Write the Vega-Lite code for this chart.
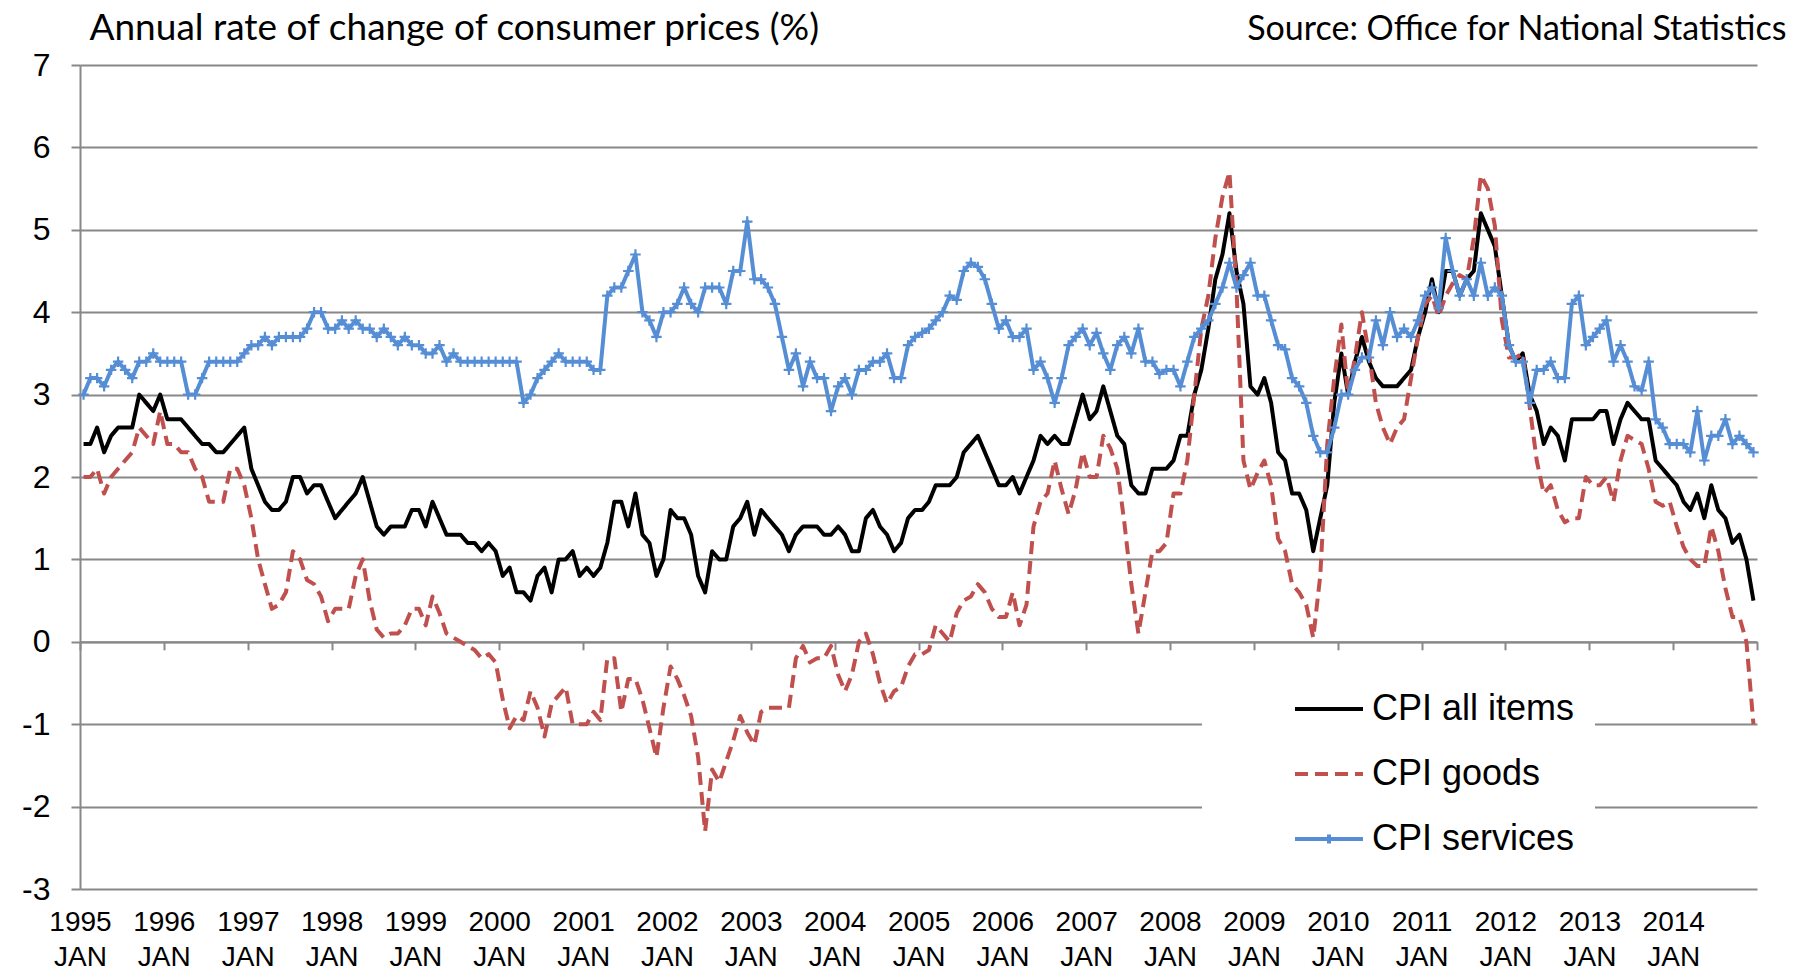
{
"$schema": "https://vega.github.io/schema/vega-lite/v6.json",
"width": 1677, "height": 824,
"autosize": "none",
"padding": {"left": 80, "top": 65, "right": 38, "bottom": 82},
"background": "white",
"config": {"view": {"stroke": null}, "font": "Liberation Sans"},
"data": {"format": {"parse": {"m": "utc:'%Y-%m'"}}, "values": [
{"m":"1995-01","a":2.4,"g":2.0,"s":3.0},{"m":"1995-02","a":2.4,"g":2.0,"s":3.2},{"m":"1995-03","a":2.6,"g":2.1,"s":3.2},{"m":"1995-04","a":2.3,"g":1.8,"s":3.1},{"m":"1995-05","a":2.5,"g":2.0,"s":3.3},{"m":"1995-06","a":2.6,"g":2.1,"s":3.4},{"m":"1995-07","a":2.6,"g":2.2,"s":3.3},{"m":"1995-08","a":2.6,"g":2.3,"s":3.2},{"m":"1995-09","a":3.0,"g":2.6,"s":3.4},{"m":"1995-10","a":2.9,"g":2.5,"s":3.4},{"m":"1995-11","a":2.8,"g":2.4,"s":3.5},{"m":"1995-12","a":3.0,"g":2.8,"s":3.4},
{"m":"1996-01","a":2.7,"g":2.4,"s":3.4},{"m":"1996-02","a":2.7,"g":2.4,"s":3.4},{"m":"1996-03","a":2.7,"g":2.3,"s":3.4},{"m":"1996-04","a":2.6,"g":2.3,"s":3.0},{"m":"1996-05","a":2.5,"g":2.1,"s":3.0},{"m":"1996-06","a":2.4,"g":2.0,"s":3.2},{"m":"1996-07","a":2.4,"g":1.7,"s":3.4},{"m":"1996-08","a":2.3,"g":1.7,"s":3.4},{"m":"1996-09","a":2.3,"g":1.7,"s":3.4},{"m":"1996-10","a":2.4,"g":2.1,"s":3.4},{"m":"1996-11","a":2.5,"g":2.1,"s":3.4},{"m":"1996-12","a":2.6,"g":1.9,"s":3.5},
{"m":"1997-01","a":2.1,"g":1.5,"s":3.6},{"m":"1997-02","a":1.9,"g":1.0,"s":3.6},{"m":"1997-03","a":1.7,"g":0.7,"s":3.7},{"m":"1997-04","a":1.6,"g":0.4,"s":3.6},{"m":"1997-05","a":1.6,"g":0.45,"s":3.7},{"m":"1997-06","a":1.7,"g":0.6,"s":3.7},{"m":"1997-07","a":2.0,"g":1.1,"s":3.7},{"m":"1997-08","a":2.0,"g":1.0,"s":3.7},{"m":"1997-09","a":1.8,"g":0.75,"s":3.8},{"m":"1997-10","a":1.9,"g":0.7,"s":4.0},{"m":"1997-11","a":1.9,"g":0.55,"s":4.0},{"m":"1997-12","a":1.7,"g":0.25,"s":3.8},
{"m":"1998-01","a":1.5,"g":0.4,"s":3.8},{"m":"1998-02","a":1.6,"g":0.4,"s":3.9},{"m":"1998-03","a":1.7,"g":0.4,"s":3.8},{"m":"1998-04","a":1.8,"g":0.8,"s":3.9},{"m":"1998-05","a":2.0,"g":1.0,"s":3.8},{"m":"1998-06","a":1.7,"g":0.5,"s":3.8},{"m":"1998-07","a":1.4,"g":0.15,"s":3.7},{"m":"1998-08","a":1.3,"g":0.05,"s":3.8},{"m":"1998-09","a":1.4,"g":0.1,"s":3.7},{"m":"1998-10","a":1.4,"g":0.1,"s":3.6},{"m":"1998-11","a":1.4,"g":0.2,"s":3.7},{"m":"1998-12","a":1.6,"g":0.4,"s":3.6},
{"m":"1999-01","a":1.6,"g":0.4,"s":3.6},{"m":"1999-02","a":1.4,"g":0.2,"s":3.5},{"m":"1999-03","a":1.7,"g":0.55,"s":3.5},{"m":"1999-04","a":1.5,"g":0.35,"s":3.6},{"m":"1999-05","a":1.3,"g":0.1,"s":3.4},{"m":"1999-06","a":1.3,"g":0.05,"s":3.5},{"m":"1999-07","a":1.3,"g":0.0,"s":3.4},{"m":"1999-08","a":1.2,"g":-0.05,"s":3.4},{"m":"1999-09","a":1.2,"g":-0.1,"s":3.4},{"m":"1999-10","a":1.1,"g":-0.2,"s":3.4},{"m":"1999-11","a":1.2,"g":-0.15,"s":3.4},{"m":"1999-12","a":1.1,"g":-0.25,"s":3.4},
{"m":"2000-01","a":0.8,"g":-0.7,"s":3.4},{"m":"2000-02","a":0.9,"g":-1.05,"s":3.4},{"m":"2000-03","a":0.6,"g":-0.9,"s":3.4},{"m":"2000-04","a":0.6,"g":-0.95,"s":2.9},{"m":"2000-05","a":0.5,"g":-0.6,"s":3.0},{"m":"2000-06","a":0.8,"g":-0.8,"s":3.2},{"m":"2000-07","a":0.9,"g":-1.15,"s":3.3},{"m":"2000-08","a":0.6,"g":-0.75,"s":3.4},{"m":"2000-09","a":1.0,"g":-0.65,"s":3.5},{"m":"2000-10","a":1.0,"g":-0.55,"s":3.4},{"m":"2000-11","a":1.1,"g":-1.0,"s":3.4},{"m":"2000-12","a":0.8,"g":-1.0,"s":3.4},
{"m":"2001-01","a":0.9,"g":-1.0,"s":3.4},{"m":"2001-02","a":0.8,"g":-0.85,"s":3.3},{"m":"2001-03","a":0.9,"g":-0.95,"s":3.3},{"m":"2001-04","a":1.2,"g":-0.2,"s":4.2},{"m":"2001-05","a":1.7,"g":-0.2,"s":4.3},{"m":"2001-06","a":1.7,"g":-0.85,"s":4.3},{"m":"2001-07","a":1.4,"g":-0.45,"s":4.5},{"m":"2001-08","a":1.8,"g":-0.45,"s":4.7},{"m":"2001-09","a":1.3,"g":-0.7,"s":4.0},{"m":"2001-10","a":1.2,"g":-1.05,"s":3.9},{"m":"2001-11","a":0.8,"g":-1.4,"s":3.7},{"m":"2001-12","a":1.0,"g":-0.8,"s":4.0},
{"m":"2002-01","a":1.6,"g":-0.3,"s":4.0},{"m":"2002-02","a":1.5,"g":-0.45,"s":4.1},{"m":"2002-03","a":1.5,"g":-0.65,"s":4.3},{"m":"2002-04","a":1.3,"g":-0.9,"s":4.1},{"m":"2002-05","a":0.8,"g":-1.4,"s":4.0},{"m":"2002-06","a":0.6,"g":-2.3,"s":4.3},{"m":"2002-07","a":1.1,"g":-1.55,"s":4.3},{"m":"2002-08","a":1.0,"g":-1.7,"s":4.3},{"m":"2002-09","a":1.0,"g":-1.45,"s":4.1},{"m":"2002-10","a":1.4,"g":-1.2,"s":4.5},{"m":"2002-11","a":1.5,"g":-0.9,"s":4.5},{"m":"2002-12","a":1.7,"g":-1.1,"s":5.1},
{"m":"2003-01","a":1.3,"g":-1.25,"s":4.4},{"m":"2003-02","a":1.6,"g":-0.85,"s":4.4},{"m":"2003-03","a":1.5,"g":-0.8,"s":4.3},{"m":"2003-04","a":1.4,"g":-0.8,"s":4.1},{"m":"2003-05","a":1.3,"g":-0.8,"s":3.7},{"m":"2003-06","a":1.1,"g":-0.8,"s":3.3},{"m":"2003-07","a":1.3,"g":-0.2,"s":3.5},{"m":"2003-08","a":1.4,"g":-0.05,"s":3.1},{"m":"2003-09","a":1.4,"g":-0.25,"s":3.4},{"m":"2003-10","a":1.4,"g":-0.2,"s":3.2},{"m":"2003-11","a":1.3,"g":-0.2,"s":3.2},{"m":"2003-12","a":1.3,"g":-0.05,"s":2.8},
{"m":"2004-01","a":1.4,"g":-0.4,"s":3.1},{"m":"2004-02","a":1.3,"g":-0.6,"s":3.2},{"m":"2004-03","a":1.1,"g":-0.4,"s":3.0},{"m":"2004-04","a":1.1,"g":0.0,"s":3.3},{"m":"2004-05","a":1.5,"g":0.1,"s":3.3},{"m":"2004-06","a":1.6,"g":-0.15,"s":3.4},{"m":"2004-07","a":1.4,"g":-0.5,"s":3.4},{"m":"2004-08","a":1.3,"g":-0.75,"s":3.5},{"m":"2004-09","a":1.1,"g":-0.6,"s":3.2},{"m":"2004-10","a":1.2,"g":-0.55,"s":3.2},{"m":"2004-11","a":1.5,"g":-0.3,"s":3.6},{"m":"2004-12","a":1.6,"g":-0.15,"s":3.7},
{"m":"2005-01","a":1.6,"g":-0.15,"s":3.75},{"m":"2005-02","a":1.7,"g":-0.1,"s":3.8},{"m":"2005-03","a":1.9,"g":0.2,"s":3.9},{"m":"2005-04","a":1.9,"g":0.1,"s":4.0},{"m":"2005-05","a":1.9,"g":0.0,"s":4.2},{"m":"2005-06","a":2.0,"g":0.35,"s":4.15},{"m":"2005-07","a":2.3,"g":0.5,"s":4.5},{"m":"2005-08","a":2.4,"g":0.55,"s":4.6},{"m":"2005-09","a":2.5,"g":0.7,"s":4.55},{"m":"2005-10","a":2.3,"g":0.6,"s":4.4},{"m":"2005-11","a":2.1,"g":0.4,"s":4.1},{"m":"2005-12","a":1.9,"g":0.3,"s":3.8},
{"m":"2006-01","a":1.9,"g":0.3,"s":3.9},{"m":"2006-02","a":2.0,"g":0.6,"s":3.7},{"m":"2006-03","a":1.8,"g":0.2,"s":3.7},{"m":"2006-04","a":2.0,"g":0.45,"s":3.8},{"m":"2006-05","a":2.2,"g":1.4,"s":3.3},{"m":"2006-06","a":2.5,"g":1.7,"s":3.4},{"m":"2006-07","a":2.4,"g":1.8,"s":3.2},{"m":"2006-08","a":2.5,"g":2.2,"s":2.9},{"m":"2006-09","a":2.4,"g":1.85,"s":3.2},{"m":"2006-10","a":2.4,"g":1.55,"s":3.6},{"m":"2006-11","a":2.7,"g":1.85,"s":3.7},{"m":"2006-12","a":3.0,"g":2.3,"s":3.8},
{"m":"2007-01","a":2.7,"g":2.0,"s":3.6},{"m":"2007-02","a":2.8,"g":2.0,"s":3.75},{"m":"2007-03","a":3.1,"g":2.5,"s":3.5},{"m":"2007-04","a":2.8,"g":2.35,"s":3.3},{"m":"2007-05","a":2.5,"g":2.1,"s":3.6},{"m":"2007-06","a":2.4,"g":1.45,"s":3.7},{"m":"2007-07","a":1.9,"g":0.7,"s":3.5},{"m":"2007-08","a":1.8,"g":0.1,"s":3.8},{"m":"2007-09","a":1.8,"g":0.6,"s":3.4},{"m":"2007-10","a":2.1,"g":1.1,"s":3.4},{"m":"2007-11","a":2.1,"g":1.1,"s":3.25},{"m":"2007-12","a":2.1,"g":1.2,"s":3.3},
{"m":"2008-01","a":2.2,"g":1.8,"s":3.3},{"m":"2008-02","a":2.5,"g":1.8,"s":3.1},{"m":"2008-03","a":2.5,"g":2.2,"s":3.4},{"m":"2008-04","a":3.0,"g":3.0,"s":3.7},{"m":"2008-05","a":3.3,"g":3.8,"s":3.8},{"m":"2008-06","a":3.8,"g":4.2,"s":3.9},{"m":"2008-07","a":4.4,"g":4.9,"s":4.1},{"m":"2008-08","a":4.7,"g":5.4,"s":4.3},{"m":"2008-09","a":5.2,"g":5.7,"s":4.6},{"m":"2008-10","a":4.5,"g":4.3,"s":4.3},{"m":"2008-11","a":4.1,"g":2.2,"s":4.45},{"m":"2008-12","a":3.1,"g":1.85,"s":4.6},
{"m":"2009-01","a":3.0,"g":2.05,"s":4.2},{"m":"2009-02","a":3.2,"g":2.2,"s":4.2},{"m":"2009-03","a":2.9,"g":1.9,"s":3.9},{"m":"2009-04","a":2.3,"g":1.25,"s":3.6},{"m":"2009-05","a":2.2,"g":1.1,"s":3.55},{"m":"2009-06","a":1.8,"g":0.7,"s":3.2},{"m":"2009-07","a":1.8,"g":0.6,"s":3.1},{"m":"2009-08","a":1.6,"g":0.45,"s":2.9},{"m":"2009-09","a":1.1,"g":0.05,"s":2.5},{"m":"2009-10","a":1.5,"g":0.8,"s":2.3},{"m":"2009-11","a":1.9,"g":2.4,"s":2.3},{"m":"2009-12","a":2.9,"g":3.2,"s":2.6},
{"m":"2010-01","a":3.5,"g":3.85,"s":3.0},{"m":"2010-02","a":3.0,"g":3.0,"s":3.0},{"m":"2010-03","a":3.4,"g":3.45,"s":3.3},{"m":"2010-04","a":3.7,"g":4.0,"s":3.45},{"m":"2010-05","a":3.4,"g":3.5,"s":3.45},{"m":"2010-06","a":3.2,"g":2.9,"s":3.9},{"m":"2010-07","a":3.1,"g":2.6,"s":3.6},{"m":"2010-08","a":3.1,"g":2.4,"s":4.0},{"m":"2010-09","a":3.1,"g":2.6,"s":3.7},{"m":"2010-10","a":3.2,"g":2.7,"s":3.8},{"m":"2010-11","a":3.3,"g":3.2,"s":3.7},{"m":"2010-12","a":3.7,"g":3.7,"s":3.9},
{"m":"2011-01","a":4.0,"g":4.1,"s":4.2},{"m":"2011-02","a":4.4,"g":4.2,"s":4.3},{"m":"2011-03","a":4.0,"g":3.95,"s":4.05},{"m":"2011-04","a":4.5,"g":4.2,"s":4.9},{"m":"2011-05","a":4.5,"g":4.35,"s":4.5},{"m":"2011-06","a":4.2,"g":4.45,"s":4.2},{"m":"2011-07","a":4.4,"g":4.4,"s":4.4},{"m":"2011-08","a":4.5,"g":4.9,"s":4.2},{"m":"2011-09","a":5.2,"g":5.66,"s":4.6},{"m":"2011-10","a":5.0,"g":5.5,"s":4.2},{"m":"2011-11","a":4.8,"g":5.05,"s":4.3},{"m":"2011-12","a":4.2,"g":3.9,"s":4.2},
{"m":"2012-01","a":3.6,"g":3.45,"s":3.6},{"m":"2012-02","a":3.4,"g":3.45,"s":3.4},{"m":"2012-03","a":3.5,"g":3.5,"s":3.4},{"m":"2012-04","a":3.0,"g":2.85,"s":2.9},{"m":"2012-05","a":2.8,"g":2.2,"s":3.3},{"m":"2012-06","a":2.4,"g":1.8,"s":3.3},{"m":"2012-07","a":2.6,"g":1.9,"s":3.4},{"m":"2012-08","a":2.5,"g":1.6,"s":3.2},{"m":"2012-09","a":2.2,"g":1.45,"s":3.2},{"m":"2012-10","a":2.7,"g":1.5,"s":4.1},{"m":"2012-11","a":2.7,"g":1.5,"s":4.2},{"m":"2012-12","a":2.7,"g":2.0,"s":3.6},
{"m":"2013-01","a":2.7,"g":1.9,"s":3.7},{"m":"2013-02","a":2.8,"g":1.9,"s":3.8},{"m":"2013-03","a":2.8,"g":2.0,"s":3.9},{"m":"2013-04","a":2.4,"g":1.7,"s":3.4},{"m":"2013-05","a":2.7,"g":2.2,"s":3.6},{"m":"2013-06","a":2.9,"g":2.5,"s":3.4},{"m":"2013-07","a":2.8,"g":2.45,"s":3.1},{"m":"2013-08","a":2.7,"g":2.4,"s":3.05},{"m":"2013-09","a":2.7,"g":2.1,"s":3.4},{"m":"2013-10","a":2.2,"g":1.7,"s":2.7},{"m":"2013-11","a":2.1,"g":1.65,"s":2.6},{"m":"2013-12","a":2.0,"g":1.7,"s":2.4},
{"m":"2014-01","a":1.9,"g":1.4,"s":2.4},{"m":"2014-02","a":1.7,"g":1.15,"s":2.4},{"m":"2014-03","a":1.6,"g":1.0,"s":2.3},{"m":"2014-04","a":1.8,"g":0.92,"s":2.8},{"m":"2014-05","a":1.5,"g":0.92,"s":2.2},{"m":"2014-06","a":1.9,"g":1.4,"s":2.5},{"m":"2014-07","a":1.6,"g":1.1,"s":2.5},{"m":"2014-08","a":1.5,"g":0.65,"s":2.7},{"m":"2014-09","a":1.2,"g":0.3,"s":2.4},{"m":"2014-10","a":1.3,"g":0.3,"s":2.5},{"m":"2014-11","a":1.0,"g":0.0,"s":2.4},{"m":"2014-12","a":0.5,"g":-1.0,"s":2.3}
]},
"transform": [{"fold": ["a", "g", "s"], "as": ["series", "v"]}],
"encoding": {
  "y": {"field": "v", "type": "quantitative", "scale": {"domain": [-3, 7], "nice": false, "zero": false},
    "axis": {"values": [-3,-2,-1,0,1,2,3,4,5,6,7], "labelExpr": "datum.value + ''",
      "grid": true, "gridColor": "#888888", "gridWidth": 2,
      "domain": true, "domainColor": "#888888", "domainWidth": 2,
      "ticks": true, "tickSize": 9, "tickColor": "#888888", "tickWidth": 2,
      "labelFont": "'Liberation Sans Narrow', 'Arial Narrow', 'Liberation Sans', sans-serif", "labelFontSize": 32, "labelColor": "black", "labelPadding": 21,
      "title": "Annual rate of change of consumer prices (%)", "titleAngle": 0, "titleAlign": "left", "titleBaseline": "alphabetic",
      "titleX": 9, "titleY": -26, "titleFont": "Lato", "titleFontSize": 37, "titleFontWeight": "normal", "titleColor": "black"}}
},
"layer": [
  {"mark": {"type": "line", "strokeWidth": 4, "strokeJoin": "round"},
   "encoding": {
     "x": {"field": "m", "type": "temporal", "timeUnit": "utcyearmonth", "bandPosition": 0.5,
       "scale": {"type": "utc", "domain": [{"year": 1995, "utc": true}, {"year": 2015, "utc": true}]},
       "axis": {"orient": "bottom", "domain": false, "ticks": false, "tickSize": 0, "grid": false,
         "values": [{"year":1995,"utc":true},{"year":1996,"utc":true},{"year":1997,"utc":true},{"year":1998,"utc":true},{"year":1999,"utc":true},{"year":2000,"utc":true},{"year":2001,"utc":true},{"year":2002,"utc":true},{"year":2003,"utc":true},{"year":2004,"utc":true},{"year":2005,"utc":true},{"year":2006,"utc":true},{"year":2007,"utc":true},{"year":2008,"utc":true},{"year":2009,"utc":true},{"year":2010,"utc":true},{"year":2011,"utc":true},{"year":2012,"utc":true},{"year":2013,"utc":true},{"year":2014,"utc":true}],
         "labelExpr": "[utcFormat(datum.value, '%Y'), 'JAN']",
         "labelFont": "'Liberation Sans Narrow', 'Arial Narrow', 'Liberation Sans', sans-serif", "labelFontSize": 28, "labelColor": "black",
         "labelPadding": 19, "labelLineHeight": 35, "labelOverlap": false, "labelFlush": false, "labelAlign": "center", "labelBaseline": "top",
         "title": null}},
     "color": {"field": "series", "type": "nominal",
       "scale": {"domain": ["a", "g", "s"], "range": ["#000000", "#C0504D", "#568ED6"]},
       "legend": {"orient": "none", "legendX": 1122, "legendY": 606, "title": null, "padding": 20, "fillColor": "white",
         "symbolType": "M-3.4,0H3.4", "symbolSize": 400, "symbolStrokeWidth": 4, "symbolOffset": 89, "labelOffset": 25,
         "labelFont": "Liberation Sans", "labelFontSize": 36, "labelColor": "black", "rowPadding": 29, "labelLimit": 600,
         "labelExpr": "datum.value == 'a' ? 'CPI all items' : (datum.value == 'g' ? 'CPI goods' : 'CPI services')",
         "encode": {"symbols": {"update": {"shape": {"signal": "datum.value == 's' ? 'M-3.4,0H3.4M0,-0.45V0.45' : 'M-3.4,0H3.4'"}}}}}},
     "strokeDash": {"field": "series", "type": "nominal",
       "scale": {"domain": ["a", "g", "s"], "range": [[1, 0], [13, 7], [1, 0]]},
       "legend": {"orient": "none", "legendX": 1122, "legendY": 606, "title": null, "padding": 20, "fillColor": "white",
         "symbolType": "M-3.4,0H3.4", "symbolSize": 400, "symbolStrokeWidth": 4, "symbolOffset": 89, "labelOffset": 25,
         "labelFont": "Liberation Sans", "labelFontSize": 36, "labelColor": "black", "rowPadding": 29, "labelLimit": 600,
         "labelExpr": "datum.value == 'a' ? 'CPI all items' : (datum.value == 'g' ? 'CPI goods' : 'CPI services')",
         "encode": {"symbols": {"update": {"shape": {"signal": "datum.value == 's' ? 'M-3.4,0H3.4M0,-0.45V0.45' : 'M-3.4,0H3.4'"}}}}}}
   }},
  {"transform": [{"filter": {"field": "series", "equal": "s"}}],
   "mark": {"type": "point", "shape": "M-1,0H1M0,-1V1", "size": 110, "filled": false, "stroke": "#568ED6", "strokeWidth": 2.2, "opacity": 1},
   "encoding": {
     "x": {"field": "m", "type": "temporal", "timeUnit": "utcyearmonth", "bandPosition": 0.5,
       "scale": {"type": "utc", "domain": [{"year": 1995, "utc": true}, {"year": 2015, "utc": true}]},
       "axis": {"orient": "bottom", "offset": -247.2, "domain": true, "domainColor": "#888888", "domainWidth": 2,
         "ticks": true, "tickSize": 8, "tickColor": "#888888", "tickWidth": 2, "labels": false, "grid": false,
         "values": [{"year":1995,"utc":true},{"year":1996,"utc":true},{"year":1997,"utc":true},{"year":1998,"utc":true},{"year":1999,"utc":true},{"year":2000,"utc":true},{"year":2001,"utc":true},{"year":2002,"utc":true},{"year":2003,"utc":true},{"year":2004,"utc":true},{"year":2005,"utc":true},{"year":2006,"utc":true},{"year":2007,"utc":true},{"year":2008,"utc":true},{"year":2009,"utc":true},{"year":2010,"utc":true},{"year":2011,"utc":true},{"year":2012,"utc":true},{"year":2013,"utc":true},{"year":2014,"utc":true},{"year":2015,"utc":true}],
         "title": "Source: Office for National Statistics", "titleAngle": 0, "titleAlign": "right", "titleBaseline": "alphabetic",
         "titleX": 1706, "titleY": -602.8, "titleFont": "Lato", "titleFontSize": 34, "titleFontWeight": "normal", "titleColor": "black"}}
   }}
],
"resolve": {"axis": {"x": "independent"}}
}
